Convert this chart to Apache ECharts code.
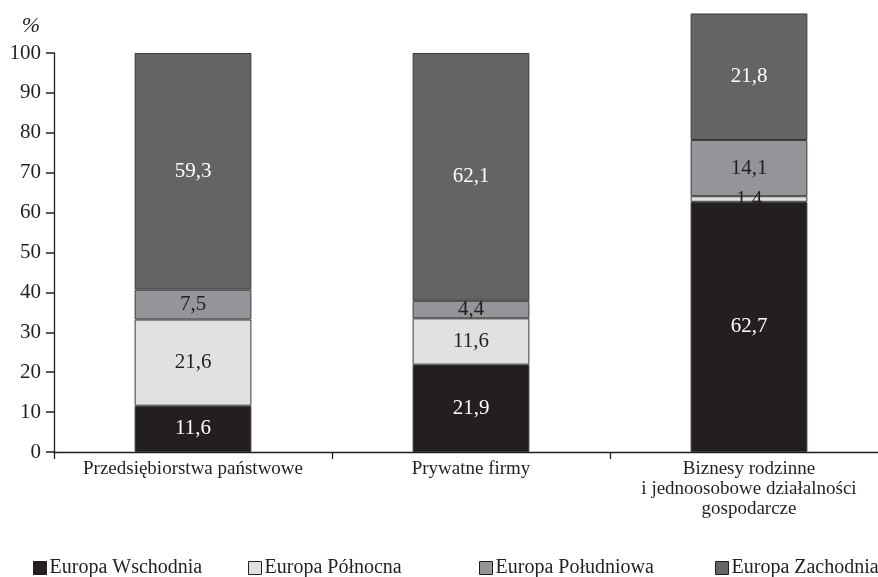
<!DOCTYPE html>
<html>
<head>
<meta charset="utf-8">
<script src="https://cdn.jsdelivr.net/npm/echarts@6/dist/echarts.min.js"></script>
<style>
  html, body { margin: 0; padding: 0; background: #fff; overflow: hidden; }
  #chart { width: 878px; height: 577px; }
</style>
</head>
<body>
<div id="chart"></div>
<script>
  const categories = [
    'Przedsiębiorstwa państwowe',
    'Prywatne firmy',
    'Biznesy rodzinne\ni jednoosobowe działalności\ngospodarcze'
  ]
  const yTicks = [0, 10, 20, 30, 40, 50, 60, 70, 80, 90, 100]

  const wschodnia = [11.6, 21.9, 62.7]
  const polnocna = [21.6, 11.6, 1.4]
  const poludniowa = [7.5, 4.4, 14.1]
  const zachodnia = [59.3, 62.1, 21.8]
  // the source draws the last top segment taller than its label says (about 31.7)
  const zachodniaDrawn = [59.3, 62.1, 31.7]

  const font = '"Liberation Serif", "DejaVu Serif", serif'
  const ink = '#231f20'

  const fmt = v => String(v).replace('.', ',')

  function makeSeries(name, heights, labels, color, labelColor) {
    return {
      name: name,
      type: 'bar',
      stack: 'total',
      barWidth: '42%',
      clip: false,
      data: heights,
      itemStyle: { color: color, borderColor: '#3a3a3a', borderWidth: 1 },
      label: {
        show: true,
        position: 'inside',
        color: labelColor,
        fontFamily: font,
        fontSize: 21,
        formatter: p => fmt(labels[p.dataIndex])
      },
      emphasis: { disabled: true }
    }
  }

  function legendAt(name, left) {
    return {
      data: [name],
      left: left,
      top: 553,
      icon: 'rect',
      itemWidth: 13,
      itemHeight: 13,
      itemGap: 4,
      textStyle: { fontFamily: font, fontSize: 20, color: ink, padding: [0, 0, 0, -2] },
      itemStyle: { borderColor: ink, borderWidth: 1 }
    }
  }

  const chart = echarts.init(document.getElementById('chart'))
  chart.setOption({
    animation: false,
    backgroundColor: '#fff',
    grid: {
      left: 54, right: -10, top: 53, bottom: 125,
      containLabel: false,
      outerBoundsMode: 'none'
    },
    legend: [
      legendAt('Europa Wschodnia', 28),
      legendAt('Europa Północna', 243),
      legendAt('Europa Południowa', 474),
      legendAt('Europa Zachodnia', 710)
    ],
    xAxis: {
      type: 'category',
      data: categories,
      axisLine: { lineStyle: { color: ink, width: 1.3 } },
      axisTick: { show: true, length: 7, lineStyle: { color: ink, width: 1.3 } },
      axisLabel: {
        interval: 0,
        margin: 7,
        fontFamily: font,
        fontSize: 19,
        lineHeight: 20,
        color: ink
      }
    },
    yAxis: {
      type: 'value',
      min: yTicks[0],
      max: yTicks[yTicks.length - 1],
      interval: 10,
      name: '%',
      nameLocation: 'end',
      nameGap: 16,
      nameTextStyle: {
        fontFamily: font,
        fontSize: 22,
        fontStyle: 'italic',
        color: ink,
        align: 'right',
        padding: [0, 14, 0, 0]
      },
      axisLine: { show: true, lineStyle: { color: ink, width: 1.3 } },
      axisTick: { show: true, inside: false, length: 8, lineStyle: { color: ink, width: 1.5 } },
      splitLine: { show: false },
      axisLabel: { margin: 13, fontFamily: font, fontSize: 21, color: ink }
    },
    series: [
      makeSeries('Europa Wschodnia', wschodnia, wschodnia, '#231f20', '#ffffff'),
      makeSeries('Europa Północna', polnocna, polnocna, '#e1e1e3', '#231f20'),
      makeSeries('Europa Południowa', poludniowa, poludniowa, '#939598', '#231f20'),
      makeSeries('Europa Zachodnia', zachodniaDrawn, zachodnia, '#636466', '#ffffff')
    ]
  })
</script>
</body>
</html>
